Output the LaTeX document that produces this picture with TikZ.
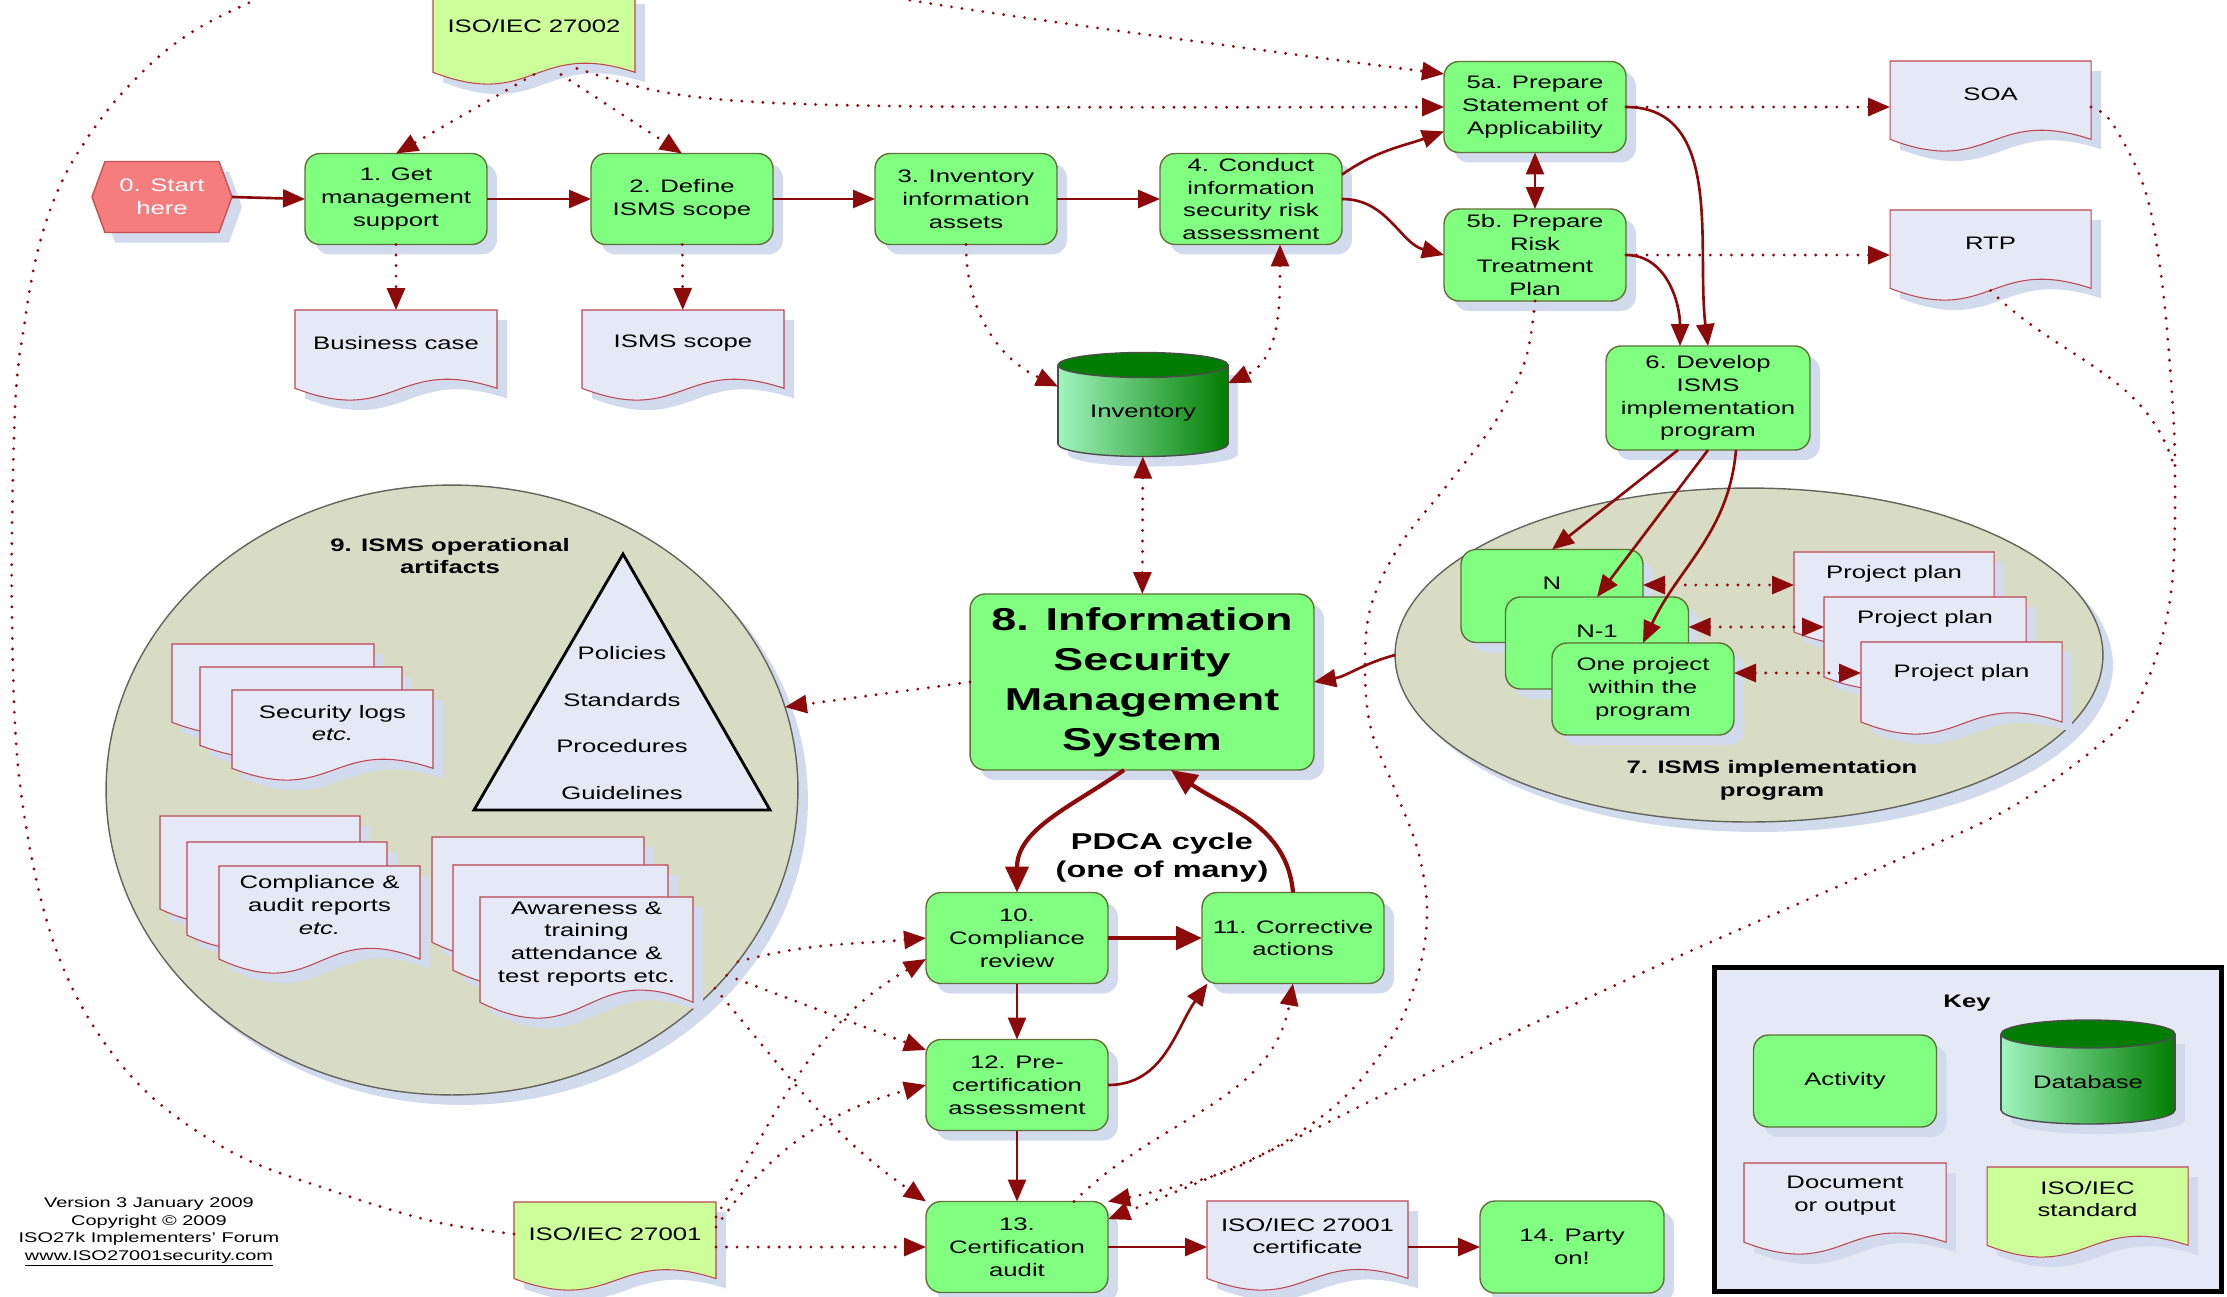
\documentclass[tikz,border=0pt]{standalone}
\usepackage{fontspec}
\setmainfont{Liberation Sans}[FakeStretch=1.42]
\usetikzlibrary{arrows.meta,shapes.geometric,shadows,calc}

\definecolor{actfill}{RGB}{128,255,128}
\definecolor{actline}{RGB}{96,112,56}
\definecolor{startfill}{RGB}{245,125,125}
\definecolor{startline}{RGB}{200,80,80}
\definecolor{docfill}{RGB}{228,233,245}
\definecolor{docline}{RGB}{190,70,80}
\definecolor{isofill}{RGB}{204,255,153}
\definecolor{ellfill}{RGB}{216,220,196}
\definecolor{ellline}{RGB}{100,100,90}
\definecolor{arrowred}{RGB}{140,10,10}
\definecolor{shadowblue}{RGB}{210,218,238}
\definecolor{dblight}{RGB}{160,245,190}
\definecolor{dbdark}{RGB}{0,125,0}

\newcommand{\normaltext}{\fontsize{10.3}{13}\selectfont}
\newcommand{\bigtext}{\fontsize{18}{22.7}\selectfont\bfseries}
\newcommand{\pdcatext}{\fontsize{13}{15.9}\selectfont\bfseries}
\newcommand{\smalltext}{\fontsize{8}{10}\selectfont}

% document: [fill]{name}{X}{Y}{W}{H}{text y}{text}
\newcommand{\docshape}[8][docfill]{%
\begin{scope}[shift={(#3,#4)}]
\fill[shadowblue] (10,10) -- ({#5+10},10) -- ({#5+10},{0.87*#6+10})
 .. controls ({0.5*#5+10},{0.5*#6+10}) and ({0.5*#5+10},{1.3*#6+10}) .. (10,{0.87*#6+10}) -- cycle;
\draw[docline,line width=0.6pt,fill=#1] (0,0) -- (#5,0) -- (#5,{0.87*#6})
 .. controls ({0.5*#5},{0.5*#6}) and ({0.5*#5},{1.3*#6}) .. (0,{0.87*#6}) -- cycle;
\node[align=center,inner sep=0pt,minimum width={#5*0.02cm},minimum height={2*#7*0.02cm}] (#2) at ({0.5*#5},#7) {#8};
\coordinate (#2w) at ({0.5*#5},{0.895*#6});
\end{scope}}

% database: {name}{cx}{top y}{bottom y}{rx}{ry}{text y}{text}
\newcommand{\dbshape}[8]{%
\fill[shadowblue] ({#2-#5+10},{#3+10}) rectangle ({#2+#5+10},{#4+10});
\fill[shadowblue] ({#2+10},{#4+10}) ellipse [x radius={#5*0.02cm},y radius={#6*0.02cm}];
\shade[left color=dblight,right color=dbdark] ({#2-#5},#3) rectangle ({#2+#5},#4);
\shade[left color=dblight,right color=dbdark] (#2,#4) ellipse [x radius={#5*0.02cm},y radius={#6*0.02cm}];
\begin{scope}
\clip ({#2-#5-3},#4) rectangle ({#2+#5+3},{#4+#6+3});
\draw[black!70,line width=0.8pt] (#2,#4) ellipse [x radius={#5*0.02cm},y radius={#6*0.02cm}];
\end{scope}
\draw[black!70,line width=0.8pt] ({#2-#5},#3) -- ({#2-#5},#4) ({#2+#5},#3) -- ({#2+#5},#4);
\draw[black!70,line width=0.8pt,fill=dbdark] (#2,#3) ellipse [x radius={#5*0.02cm},y radius={#6*0.02cm}];
\node[inner sep=0pt,minimum width={2*#5*0.02cm},minimum height={(#4-#3+2*#6)*0.02cm}] (#1) at (#2,{0.5*(#3+#4)}) {};
\node (#1text) at (#2,#7) {#8};}

\begin{document}
\begin{tikzpicture}[x=0.02cm,y=-0.02cm,
 every node/.append style={font=\normaltext,outer sep=0pt},
 >={Triangle[length=0.44cm,width=0.36cm]},
 shadowed/.style={drop shadow={shadow xshift=0.2cm,shadow yshift=-0.2cm,fill=shadowblue,opacity=1}},
 activity/.style={rectangle,rounded corners=0.3cm,draw=actline,line width=0.8pt,fill=actfill,
  minimum width=3.64cm,minimum height=1.82cm,inner sep=1pt,align=center,shadowed},
 region/.style={ellipse,draw=ellline,line width=0.8pt,fill=ellfill,inner sep=0pt,shadowed},
 flow/.style={draw=arrowred,line width=1.5pt,->},
 pdca/.style={draw=arrowred,line width=2.4pt,-{Triangle[length=0.52cm,width=0.46cm]}},
 dotflow/.style={draw=arrowred,line width=1.8pt,line cap=round,dash pattern=on 0pt off 6pt,->},
 heading/.style={font=\normaltext\bfseries,align=center}]
\useasboundingbox (0,0) rectangle (2227,1296);

% regions
\node[region,minimum width=13.84cm,minimum height=12.2cm] (e9) at (452,790) {};
\node[region,minimum width=14.16cm,minimum height=6.68cm] (e7) at (1749,655) {};
\node[heading] (e9title) at (450,556) {9. ISMS operational\\artifacts};
\node[heading] (e7title) at (1772,780) {7. ISMS implementation\\program};

% pyramid
\draw[line width=1.6pt,fill=docfill] (623,554) -- (770,810) -- (474,810) -- cycle;
\foreach \w/\y in {Policies/653,Standards/700,Procedures/746,Guidelines/793}
 \node (tri\w) at (622,\y) {\w};

% operational artifacts
\docshape{logsA}{172}{644}{202}{90}{33}{}
\docshape{logsB}{200}{667}{202}{90}{33}{}
\docshape{logs}{232}{690}{201}{90}{33}{Security logs\\\textit{etc.}}
\docshape{compA}{160}{816}{200}{107}{39}{}
\docshape{compB}{187}{842}{200}{107}{39}{}
\docshape{comp}{219}{866}{201}{107}{39}{Compliance \&\\audit reports\\\textit{etc.}}
\docshape{awareA}{432}{837}{212}{121}{47}{}
\docshape{awareB}{453}{865}{215}{121}{47}{}
\docshape{aware}{480}{897}{213}{121}{47}{Awareness \&\\training\\attendance \&\\test reports etc.}

% documents and standards
\docshape[isofill]{iso27002}{433}{-6}{202}{90}{32}{ISO/IEC 27002}
\docshape{bizcase}{295}{310}{202}{90}{33}{Business case}
\docshape{scopedoc}{582}{310}{202}{90}{33}{ISMS scope}
\docshape{soa}{1890}{61}{201}{90}{33}{SOA}
\docshape{rtp}{1890}{210}{201}{90}{33}{RTP}
\docshape{pp1}{1794}{552}{200}{92}{22}{Project plan}
\docshape{pp2}{1824}{597}{202}{92}{22}{Project plan}
\docshape{pp3}{1861}{642}{201}{92}{31}{Project plan}
\docshape[isofill]{iso27001}{514}{1202}{202}{88}{32}{ISO/IEC 27001}
\docshape{cert}{1207}{1201}{201}{89}{35}{ISO/IEC 27001\\certificate}

% start
\fill[shadowblue] (102,207) -- (115,171.5) -- (229,171.5) -- (242,207) -- (229,242.5) -- (115,242.5) -- cycle;
\draw[startline,line width=0.8pt,fill=startfill] (92,197) -- (105,161.5) -- (219,161.5) -- (232,197) -- (219,232.5) -- (105,232.5) -- cycle;
\node[text=white,align=center,inner sep=0pt,minimum width=2.8cm] (start) at (162,197) {0. Start\\here};

% activities
\node[activity] (n1) at (396,199) {1. Get\\management\\support};
\node[activity] (n2) at (682,199) {2. Define\\ISMS scope};
\node[activity] (n3) at (966,199) {3. Inventory\\information\\assets};
\node[activity,inner sep=0pt] (n4) at (1251,199) {4. Conduct\\information\\security risk\\assessment};
\node[activity] (n5a) at (1535,107) {5a. Prepare\\Statement of\\Applicability};
\node[activity,inner sep=0pt,minimum height=1.84cm] (n5b) at (1535,255) {5b. Prepare\\Risk\\Treatment\\Plan};
\node[activity,minimum width=4.08cm,minimum height=2.08cm] (n6) at (1708,398) {6. Develop\\ISMS\\implementation\\program};
\node[activity,minimum height=1.86cm] (N) at (1552,596) {};
\node (Nlab) at (1552,583) {N};
\node[activity,minimum width=3.66cm,minimum height=1.84cm] (N1) at (1597,643) {};
\node (N1lab) at (1597,631) {N-1};
\node[activity,minimum height=1.84cm] (one) at (1643,689) {One project\\within the\\program};
\node[activity,minimum width=6.88cm,minimum height=3.52cm,font=\bigtext] (n8) at (1142,682) {8. Information\\Security\\Management\\System};
\node[activity] (n10) at (1017,938) {10.\\Compliance\\review};
\node[activity] (n11) at (1293,938) {11. Corrective\\actions};
\node[activity] (n12) at (1017,1085) {12. Pre-\\certification\\assessment};
\node[activity] (n13) at (1017,1247) {13.\\Certification\\audit};
\node[activity,minimum width=3.68cm,minimum height=1.84cm] (n14) at (1572,1247) {14. Party\\on!};
\dbshape{inv}{1143}{365}{444}{85}{12.5}{413}{Inventory}
\node[font=\pdcatext,align=center] (pdca) at (1162,858) {PDCA cycle\\(one of many)};

% key
\node[draw,line width=0.1cm,fill=docfill,minimum width=10.14cm,minimum height=6.48cm] (keybox) at (1968,1129.5) {};
\node[heading] (keytitle) at (1967,1003) {Key};
\node[activity,minimum width=3.66cm,minimum height=1.84cm] (keyact) at (1845,1081) {Activity};
\dbshape{keydb}{2088}{1034}{1110}{87}{14}{1082}{Database}
\docshape{keydoc}{1744}{1163}{202}{91}{33}{Document\\or output}
\docshape[isofill]{keyiso}{1987}{1167}{201}{90}{32}{ISO/IEC\\standard}

\node[font=\smalltext,align=center] (version) at (149,1232) {Version 3 January 2009\\Copyright © 2009\\ISO27k Implementers' Forum\\\underline{www.ISO27001security.com}};

% main flow
\draw[flow] (start.east) -- (n1.west);
\draw[flow] (n1) -- (n2);
\draw[flow] (n2) -- (n3);
\draw[flow] (n3) -- (n4);
\draw[flow] (n4.15) to[out=35,in=200] (n5a.195);
\draw[flow] (n4.east) to[out=0,in=165] (n5b.west);
\draw[flow,<->] (n5a) -- (n5b);
\draw[flow] (n5a.east) to[out=0,in=97] (n6.north);
\draw[flow] (n5b.east) to[out=0,in=90] ([xshift=-0.56cm]n6.north);
\draw[flow] ([xshift=-0.6cm]n6.south) -- (N.north);
\draw[flow] (n6.south) -- (N1.north);
\draw[flow] ([xshift=0.56cm]n6.south) to[out=-95,in=65] (one.north);
\draw[flow] (e7.west) to[out=195,in=10] (n8.east);
\draw[pdca] ([xshift=-0.36cm]n8.south) to[out=-145,in=90] (n10.north);
\draw[pdca] (n11.north) to[out=95,in=-35] ([xshift=0.58cm]n8.south);
\draw[pdca,line width=2.8pt] (n10) -- (n11);
\draw[flow] (n10) -- (n12);
\draw[flow] (n12.east) to[out=0,in=235] (n11.208);
\draw[flow] (n12) -- (n13);
\draw[flow] (n13.east) -- (n13.east -| cert.west);
\draw[flow] (n14.west -| cert.east) -- (n14.west);

% information flows
\draw[dotflow] (iso27002w) -- (n1.north);
\draw[dotflow] ([xshift=0.54cm]iso27002w) -- (n2.north);
\draw[dotflow] ([xshift=0.86cm,yshift=0.12cm]iso27002w) .. controls (700,108) .. (n5a.west);
\draw[dotflow] (n1) -- (bizcase);
\draw[dotflow] (n2) -- (scopedoc);
\draw[dotflow] (n3.south) to[out=-90,in=155] (inv.168);
\draw[dotflow,<->] ([xshift=0.58cm]n4.south) to[out=-90,in=25] (inv.14);
\draw[dotflow,<->] (inv) -- (n8);
\draw[dotflow] (n8.west) -- (e9.14);
\draw[dotflow] (n5a.east) -- (n5a.east -| soa.west);
\draw[dotflow] (n5b.east) -- (n5b.east -| rtp.west);
\draw[dotflow,<->] ([yshift=0.22cm]N.east) -- ([yshift=-0.22cm]pp1.west);
\draw[dotflow,<->] ([yshift=0.32cm]N1.east) -- ([yshift=-0.16cm]pp2.west);
\draw[dotflow,<->] ([yshift=0.32cm]one.east) -- (pp3.west);
\draw[dotflow] (e9.-31) to[out=15,in=185] (n10.west);
\draw[dotflow] (e9.-34) -- ([yshift=0.7cm]n12.west);
\draw[dotflow] (e9.-37) to[out=-50,in=145] (n13.north west);
\draw[dotflow] ([yshift=0.34cm]iso27001.east) to[out=60,in=210] ([yshift=-0.42cm]n10.west);
\draw[dotflow] ([yshift=0.14cm]iso27001.east) to[out=55,in=195] (n12.west);
\draw[dotflow] (n13.west -| iso27001.east) -- (n13.west);
\draw[dotflow] ([xshift=1.14cm]n13.north) to[out=45,in=-100] (n11.south);
\draw[dotflow] plot[smooth,tension=0.6] coordinates {(iso27001.west) (436,1222) (339,1193) (228,1150)
 (130,1075) (60,960) (22,800) (12,620) (15,410) (25,320) (38,250) (58,190) (86,140) (125,90) (180,40)
 (255,0) (420,-70) (660,-60) (909,0) (n5a.160)};
\draw[dotflow] plot[smooth,tension=0.6] coordinates {([yshift=-0.26cm]soa.east) (2112,123) (2144,187) (2160,267)
 (2170,367) (2175,470) (2170,600) (2140,698) (2104,741) (2010,808) (1891,863) (1655,967) (1418,1078) (1250,1160) (n13.17)};
\coordinate (rtpjoin) at (2175,470);
\draw[dotflow,-] (rtpw) to[out=-45,in=105] (rtpjoin);
\draw[dotflow] plot[smooth,tension=0.6] coordinates {(n5b.south) (1525,361) (1495,422) (1448,484) (1400,545)
 (1371,606) (1365,667) (1371,729) (1395,790) (1418,851) (1427,912) (1418,974) (1390,1040) (1330,1110) (1230,1170) (n13.north east)};
\end{tikzpicture}
\end{document}
